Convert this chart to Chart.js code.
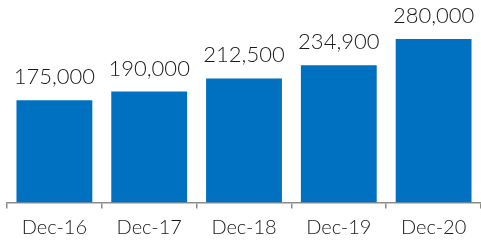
<!DOCTYPE html>
<html>
<head>
<meta charset="utf-8">
<script src="https://cdn.jsdelivr.net/npm/chart.js@4"></script>
<style>
  html, body { margin: 0; padding: 0; background: #fff; }
  #wrap { width: 481px; height: 244px; }
</style>
</head>
<body>
<div id="wrap"><canvas id="myChart"></canvas></div>
<script>
// Chart data
const categories = ['Dec-16', 'Dec-17', 'Dec-18', 'Dec-19', 'Dec-20'];
const values = [175000, 190000, 212500, 234900, 280000];

// Draw value labels above each bar
const valueLabels = {
    id: 'valueLabels',
    afterDatasetsDraw(chart) {
        const ctx = chart.ctx;
        const meta = chart.getDatasetMeta(0);
        ctx.save();
        ctx.font = '300 22px Lato';
        ctx.fillStyle = '#1a1a1a';
        ctx.textAlign = 'center';
        ctx.textBaseline = 'alphabetic';
        meta.data.forEach((bar, i) => {
            ctx.fillText(values[i].toLocaleString('en-US'), bar.x, bar.y - 16);
        });
        ctx.restore();
    }
};

const ctx = document.getElementById('myChart').getContext('2d');
const myChart = new Chart(ctx, {
    type: 'bar',
    data: {
        labels: categories,
        datasets: [{
            data: values,
            backgroundColor: '#0070C0',
            categoryPercentage: 0.8,
            barPercentage: 1.0
        }]
    },
    options: {
        responsive: true,
        maintainAspectRatio: false,
        animation: false,
        layout: { padding: { left: 7, right: 0, top: 1, bottom: 0 } },
        plugins: {
            legend: { display: false },
            tooltip: { enabled: false }
        },
        scales: {
            y: {
                display: false,
                min: 0,
                max: 345000
            },
            x: {
                offset: true,
                afterFit(scale) { scale.height = 41.5; },
                grid: {
                    offset: true,
                    drawOnChartArea: false,
                    tickLength: 6,
                    color: '#8c8c8c',
                    lineWidth: 1.5
                },
                border: { display: true, color: '#8c8c8c', width: 1.5 },
                ticks: {
                    color: '#1a1a1a',
                    font: { family: 'Lato', size: 20, weight: 300 },
                    padding: 7
                }
            }
        }
    },
    plugins: [valueLabels]
});
</script>
</body>
</html>
